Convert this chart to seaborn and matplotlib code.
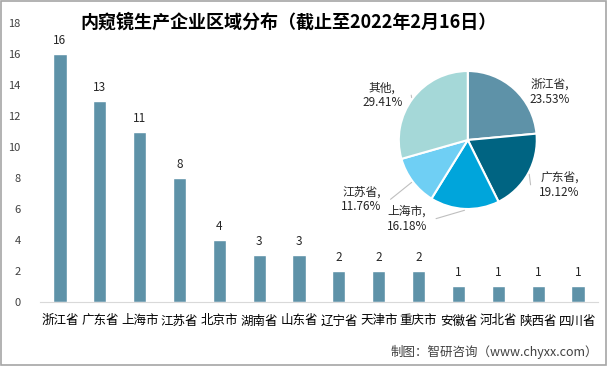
import numpy as np
import pandas as pd
import matplotlib
matplotlib.use("Agg")
import matplotlib.pyplot as plt
from matplotlib.patches import Rectangle
import seaborn as sns

# data
regions = ["浙江省", "广东省", "上海市", "江苏省", "北京市", "湖南省", "山东省",
           "辽宁省", "天津市", "重庆市", "安徽省", "河北省", "陕西省", "四川省"]
counts = [16, 13, 11, 8, 4, 3, 3, 2, 2, 2, 1, 1, 1, 1]

pie_labels = ["浙江省", "广东省", "上海市", "江苏省", "其他"]
pie_shares = [23.53, 19.12, 16.18, 11.76, 29.41]
pie_colors = ["#5E92A8", "#006482", "#00A5DB", "#6FCFF4", "#A5D8D8"]
# label positions in pie units (radius = 1)
pie_label_pos = [(1.19, 0.70), (1.33, -0.65), (-0.88, -1.14), (-1.54, -0.86), (-1.24, 0.65)]

TITLE = "内窥镜生产企业区域分布（截止至2022年2月16日）"
SOURCE = "制图：智研咨询（www.chyxx.com）"

sns.set_style("white")
plt.rcParams["font.family"] = ["Noto Sans CJK SC", "DejaVu Sans"]

fig = plt.figure(figsize=(6.07, 3.66), dpi=100)
fig.patch.set_facecolor("white")
fig.patches.append(Rectangle((0.0015, 0.0025), 0.997, 0.995, transform=fig.transFigure,
                             fill=False, edgecolor="#A6A6A6", lw=1.2))

ax = fig.add_axes([0.066, 0.175, 0.919, 0.762])
df = pd.DataFrame({"region": regions, "count": counts})
sns.barplot(data=df, x="region", y="count", color="#5E92A8", width=0.33,
            saturation=1, ax=ax)
ax.set_ylim(0, 18)
ax.set_xlim(-0.5, len(regions) - 0.5)
ax.set_yticks(range(0, 19, 2))
ax.tick_params(axis="y", labelsize=8, colors="#404040", length=0, pad=14)
ax.tick_params(axis="x", labelsize=9, colors="#000000", length=0, pad=9)
ax.set_xlabel("")
ax.set_ylabel("")
for s in ["top", "right", "left"]:
    ax.spines[s].set_visible(False)
ax.spines["bottom"].set_color("#D9D9D9")
for i, v in enumerate(counts):
    ax.text(i, v + 0.45, str(v), ha="center", va="bottom", fontsize=8.5, color="#262626")

fig.text(0.475, 0.94, TITLE, ha="center", va="center", fontsize=13,
         fontweight="bold", color="#000000")

# pie
pax = fig.add_axes([0.657, 0.429, 0.2273, 0.377])
wedges, _ = pax.pie(pie_shares, colors=pie_colors, startangle=90, counterclock=False,
                    wedgeprops=dict(edgecolor="white", linewidth=1.5))
pax.set_aspect("equal")
pax.set_xlim(-1, 1)
pax.set_ylim(-1, 1)
for w, lab, share, (lx, ly) in zip(wedges, pie_labels, pie_shares, pie_label_pos):
    mid = np.deg2rad((w.theta1 + w.theta2) / 2)
    ex, ey = np.cos(mid), np.sin(mid)
    pax.text(lx, ly, f"{lab},\n{share:.2f}%", ha="center", va="center",
             fontsize=8.5, color="#262626", linespacing=1.2)
    if lab != "浙江省":
        sx = lx + (0.42 if lx < 0 else -0.42)
        pax.plot([sx, ex * 1.02], [ly, ey * 1.02], color="#BFBFBF", lw=0.8, clip_on=False)

fig.text(0.985, 0.038, SOURCE, ha="right", va="center", fontsize=9, color="#404040")

fig.savefig("out.png", dpi=100)
